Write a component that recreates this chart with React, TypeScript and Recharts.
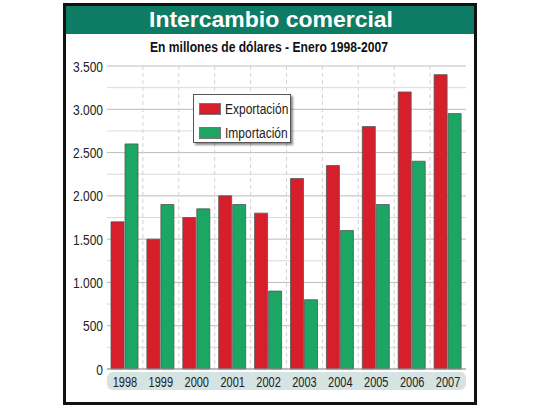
import React from 'react';
import { BarChart, Bar, XAxis, YAxis, CartesianGrid, Legend } from 'recharts';

const years = ['1998', '1999', '2000', '2001', '2002', '2003', '2004', '2005', '2006', '2007'];
const exportacion = [1700, 1500, 1750, 2000, 1800, 2200, 2350, 2800, 3200, 3400];
const importacion = [2600, 1900, 1850, 1900, 900, 800, 1600, 1900, 2400, 2950];
const yTicks = [0, 500, 1000, 1500, 2000, 2500, 3000, 3500];
const minorTicks = [250, 750, 1250, 1750, 2250, 2750, 3250];
const Y_MAX = 3500;

const data = years.map((y, i) => ({ year: y, Exportación: exportacion[i], Importación: importacion[i] }));

const FONT = '"Liberation Sans", Arial, Helvetica, sans-serif';
const RED = '#d71f2b';
const GREEN = '#1ba663';
const STRETCH = 1.28;

const fmt = (v: number) => v.toLocaleString('de-DE');

const YTick = (props: any) => {
  const { x, y, payload } = props;
  return (
    <g transform={`translate(${x},${y}) scale(1,${STRETCH})`}>
      <text x={0} y={0} dy="0.36em" textAnchor="end" fontSize={12} fontFamily={FONT} fill="#222">
        {fmt(payload.value)}
      </text>
    </g>
  );
};

const XTick = (props: any) => {
  const { x, y, payload } = props;
  return (
    <g transform={`translate(${x},${y + 17.5}) scale(1,${STRETCH})`}>
      <text x={0} y={0} textAnchor="middle" fontSize={11} fontFamily={FONT} fill="#222">
        {payload.value}
      </text>
    </g>
  );
};

const LegendBox = (props: any) => {
  const payload = props.payload || [];
  return (
    <div
      style={{
        width: 98,
        height: 49,
        background: '#fff',
        border: '1.5px solid #555',
        boxShadow: '2px 2px 2px rgba(0,0,0,0.45)',
        boxSizing: 'border-box',
        padding: '5px 0 0 5px',
      }}
    >
      {payload.map((p: any) => (
        <div key={p.value} style={{ display: 'flex', alignItems: 'center', height: 18, marginBottom: 6 }}>
          <div style={{ width: 22, height: 12, background: p.color, border: '1px solid #777', boxSizing: 'border-box', marginRight: 4 }} />
          <span
            style={{
              fontFamily: FONT,
              fontSize: 12,
              color: '#222',
              lineHeight: '14px',
              display: 'inline-block',
              transform: `scaleY(${STRETCH})`,
            }}
          >
            {p.value}
          </span>
        </div>
      ))}
    </div>
  );
};

const minorGen = ({ yAxis, offset }: any) =>
  minorTicks.map((v) =>
    yAxis && typeof yAxis.scale === 'function'
      ? yAxis.scale(v)
      : offset.top + offset.height * (1 - v / Y_MAX)
  );

export default function App() {
  return (
    <div style={{ position: 'absolute', left: 0, top: 0, width: 540, height: 405, background: '#fff', overflow: 'hidden' }}>
      <div
        style={{
          position: 'absolute',
          left: 63,
          top: 3,
          width: 414,
          height: 402,
          border: '3px solid #111',
          boxSizing: 'border-box',
        }}
      />
      <div style={{ position: 'absolute', left: 66, top: 6, width: 408, height: 28, background: '#0e7c64' }} />
      <div
        style={{
          position: 'absolute',
          left: 107,
          top: 372,
          width: 359,
          height: 18,
          borderRadius: 6,
          background: '#d6e3e3',
        }}
      />
      <svg style={{ position: 'absolute', left: 0, top: 0 }} width={540} height={60}>
        <text
          x={149}
          y={26.5}
          fill="#fff"
          fontFamily={FONT}
          fontWeight="bold"
          fontSize={22}
          textLength={244}
          lengthAdjust="spacingAndGlyphs"
        >
          Intercambio comercial
        </text>
        <g transform={`translate(150,51.5) scale(1,1.15)`}>
          <text
            x={0}
            y={0}
            fill="#111"
            fontFamily={FONT}
            fontWeight="bold"
            fontSize={12}
            textLength={238}
            lengthAdjust="spacingAndGlyphs"
          >
            En millones de dólares - Enero 1998-2007
          </text>
        </g>
      </svg>
      <div style={{ position: 'absolute', left: 0, top: 0 }}>
        <BarChart
          width={540}
          height={405}
          data={data}
          margin={{ top: 66, right: 74, bottom: 6, left: 60 }}
          barSize={13}
          barGap={1}
        >
          <CartesianGrid vertical={false} stroke="#dadada" horizontalCoordinatesGenerator={minorGen} />
          <CartesianGrid vertical={false} stroke="#bdbdbd" />
          <CartesianGrid
            horizontal={false}
            stroke="#d3d3d3"
            strokeDasharray="4 3"
            verticalCoordinatesGenerator={({ offset }: any) =>
              years.slice(1).map((_, i) => offset.left + ((i + 1) * offset.width) / years.length)
            }
          />
          <XAxis
            dataKey="year"
            height={30}
            tickLine={false}
            tickSize={0}
            tickMargin={0}
            axisLine={{ stroke: '#999' }}
            tick={<XTick />}
            interval={0}
          />
          <YAxis
            width={47}
            domain={[0, Y_MAX]}
            ticks={yTicks}
            axisLine={false}
            tickLine={false}
            tickSize={0}
            tickMargin={4}
            tick={<YTick />}
            interval={0}
          />
          <Legend
            layout="vertical"
            align="center"
            verticalAlign="middle"
            wrapperStyle={{ left: 193, top: 94, width: 100 }}
            content={<LegendBox />}
          />
          <Bar dataKey="Exportación" fill={RED} stroke="#555" strokeWidth={0.8} isAnimationActive={false} />
          <Bar dataKey="Importación" fill={GREEN} stroke="#555" strokeWidth={0.8} isAnimationActive={false} />
        </BarChart>
      </div>
    </div>
  );
}
